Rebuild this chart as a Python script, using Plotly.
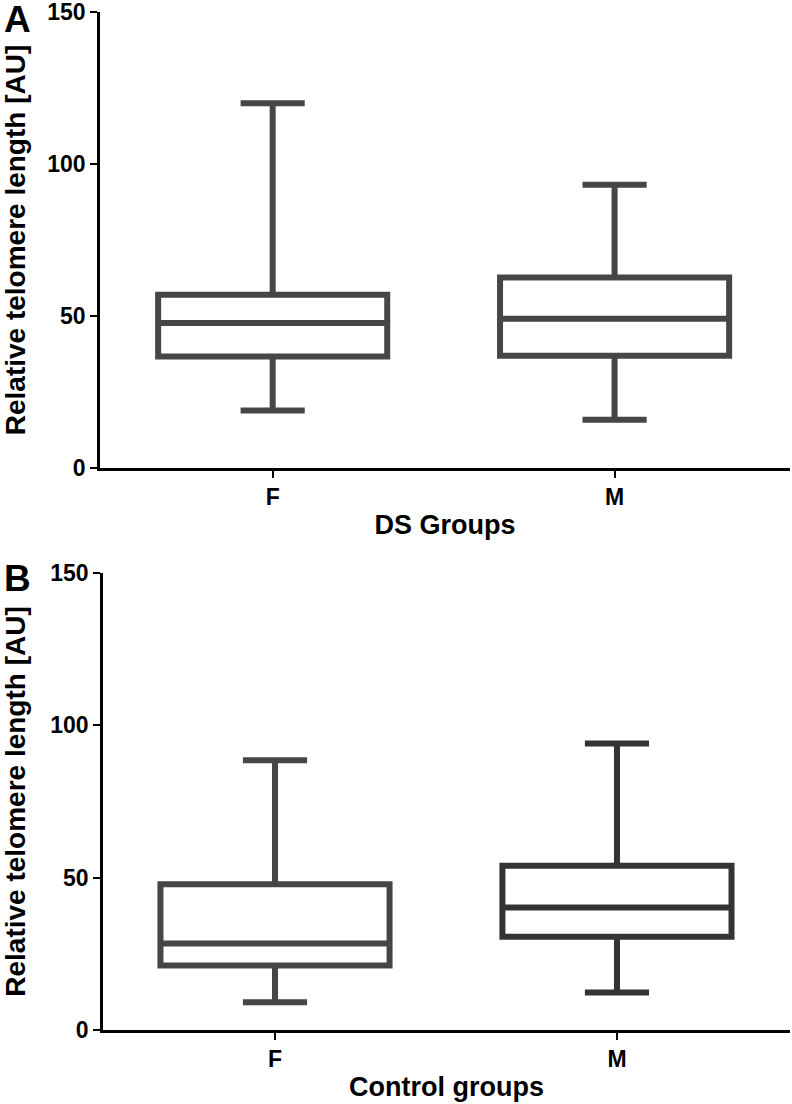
import plotly.graph_objects as go

# Boxplot summaries (min, Q1, median, Q3, max)
groups = ["F", "M"]

ds_min = [18.9, 15.9]
ds_q1 = [36.7, 36.9]
ds_median = [47.7, 49.1]
ds_q3 = [57.0, 62.7]
ds_max = [120.0, 93.2]

ctrl_min = [9.1, 12.3]
ctrl_q1 = [21.2, 30.6]
ctrl_median = [28.4, 40.2]
ctrl_q3 = [47.8, 53.9]
ctrl_max = [88.5, 94.0]

y_ticks = [0, 50, 100, 150]
panel_labels = ["A", "B"]
x_titles = ["DS Groups", "Control groups"]
y_title = "Relative telomere length [AU]"

FONT = "Liberation Sans, Arial, sans-serif"
GREY = "rgb(70,70,70)"
DARK = "rgb(52,52,52)"

fig = go.Figure()


def add_boxes(xaxis, yaxis, lo, q1, med, q3, hi, colors):
    for i, g in enumerate(groups):
        fig.add_trace(go.Box(
            x=[g], lowerfence=[lo[i]], q1=[q1[i]], median=[med[i]],
            q3=[q3[i]], upperfence=[hi[i]],
            xaxis=xaxis, yaxis=yaxis,
            width=0.67, whiskerwidth=0.28,
            fillcolor="white",
            line=dict(color=colors[i], width=6),
            hoverinfo="skip", showlegend=False,
        ))


add_boxes("x", "y", ds_min, ds_q1, ds_median, ds_q3, ds_max, [GREY, GREY])
add_boxes("x2", "y2", ctrl_min, ctrl_q1, ctrl_median, ctrl_q3, ctrl_max,
          [GREY, DARK])

tick_font = dict(family=FONT, size=23, color="black", weight="bold")

xcommon = dict(
    type="category", categoryorder="array", categoryarray=groups,
    showline=True, linecolor="black", linewidth=2.5,
    ticks="outside", ticklen=7, tickwidth=2, tickcolor="black",
    tickfont=tick_font, showgrid=False, zeroline=False, automargin=False,
    title_font=dict(family=FONT, size=27, color="black", weight="bold"),
    title_standoff=6,
)
ycommon = dict(
    range=[0, 150], tickvals=y_ticks,
    showline=True, linecolor="black", linewidth=2.5,
    ticks="outside", ticklen=7, tickwidth=2, tickcolor="black",
    tickfont=tick_font, showgrid=False, zeroline=False, automargin=False,
    ticklabeloverflow="allow",
    title_text=y_title,
    title_font=dict(family=FONT, size=28, color="black", weight="bold"),
    title_standoff=20,
)

fig.update_layout(
    width=792, height=1104,
    margin=dict(l=0, r=0, t=0, b=0),
    paper_bgcolor="white", plot_bgcolor="white",
    xaxis=dict(xcommon, domain=[100 / 792, 790 / 792], range=[-0.505, 1.513],
               anchor="y", title_text=x_titles[0]),
    yaxis=dict(ycommon, domain=[(1104 - 468) / 1104, (1104 - 12) / 1104],
               anchor="x"),
    xaxis2=dict(xcommon, domain=[103 / 792, 790 / 792], range=[-0.503, 1.506],
                anchor="y2", title_text=x_titles[1]),
    yaxis2=dict(ycommon, domain=[(1104 - 1030) / 1104, (1104 - 573) / 1104],
                anchor="x2"),
)

# panel letters
for label, ypos in zip(panel_labels, [1104 - 19, 1104 - 578]):
    fig.add_annotation(
        text=label, xref="paper", yref="paper",
        x=2 / 792, y=ypos / 1104, xanchor="left", yanchor="middle",
        showarrow=False, font=dict(family=FONT, size=37, color="black",
                                   weight="bold"),
    )

# drop the browser's default body margin so the figure sits at (0, 0)
fig.write_html("out.html", config={"displayModeBar": False},
               post_script="document.body.style.margin = '0';")
